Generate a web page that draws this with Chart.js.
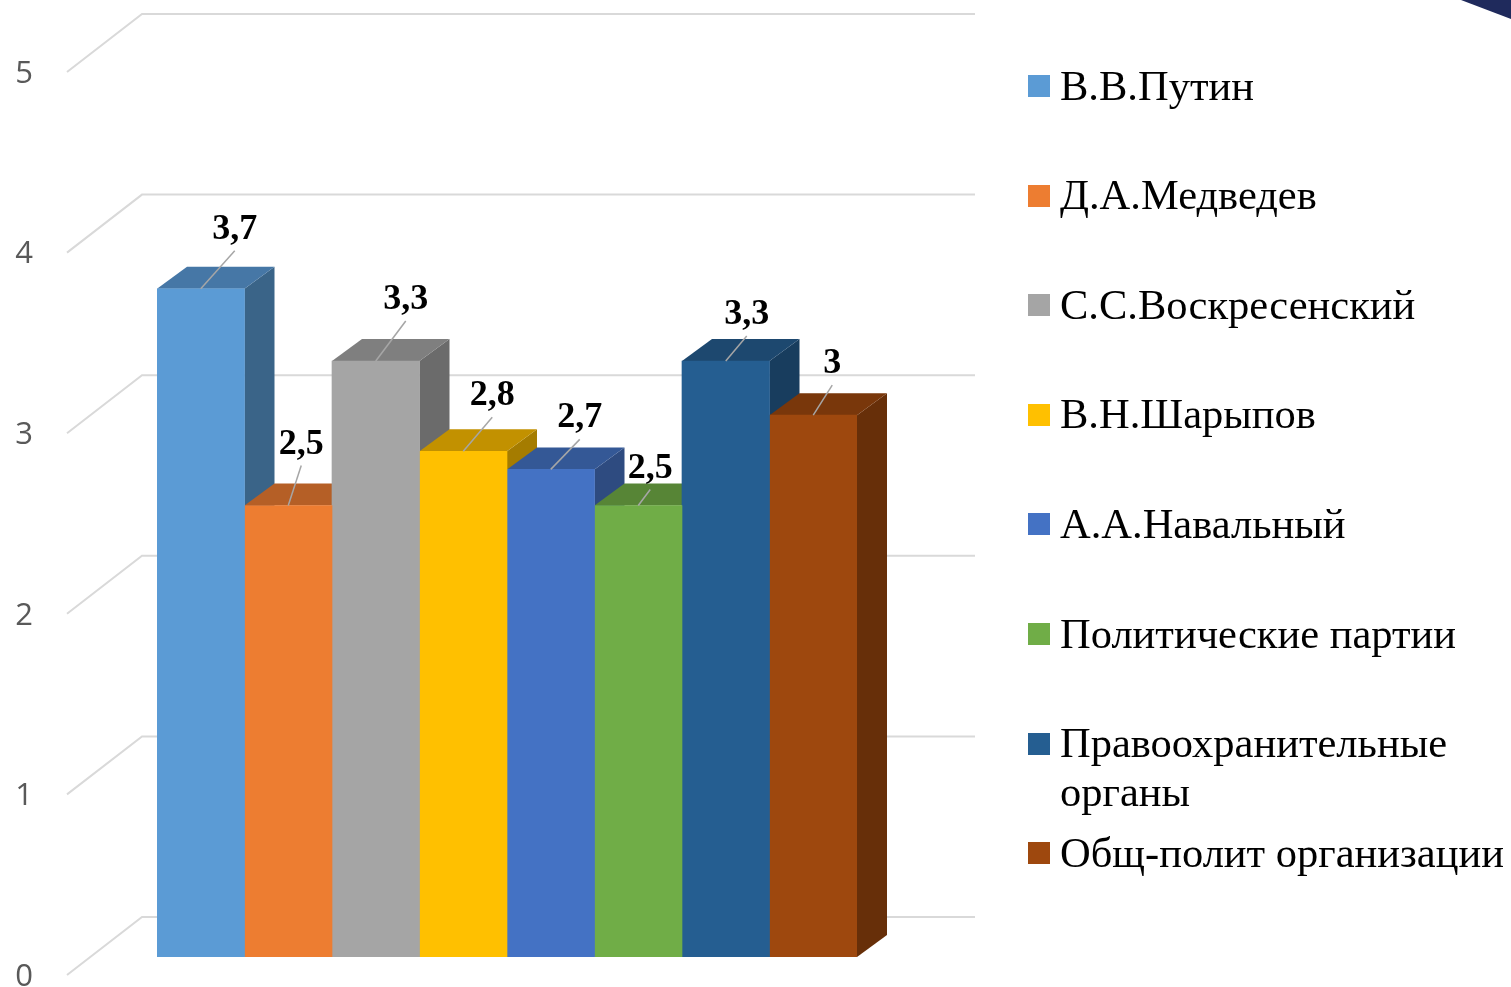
<!DOCTYPE html>
<html>
<head>
<meta charset="utf-8">
<script src="https://cdn.jsdelivr.net/npm/chart.js@4/dist/chart.umd.min.js"></script>
<style>
  html, body { margin: 0; padding: 0; background: #ffffff; }
  #wrap { position: relative; width: 1511px; height: 987px; overflow: hidden; }
  #c { position: absolute; left: 0; top: 0; }
  #legend { position: absolute; left: 0; top: 0; width: 1511px; height: 987px; pointer-events: none; }
  .li { position: absolute; left: 1028px; font-family: "Liberation Serif", "Times New Roman", serif; font-size: 42.5px; line-height: 49px; color: #000; white-space: nowrap; }
  .li .sw { position: absolute; left: 0; width: 22px; height: 22px; }
  .li .tx { position: absolute; left: 32px; top: 0; }
  #corner { position: absolute; right: 0; top: 0; width: 60px; height: 30px; background: #1f2a5c; clip-path: polygon(10px 0, 60px 0, 60px 19px); }
</style>
</head>
<body>
<div id="wrap">
  <canvas id="c" width="1511" height="987"></canvas>
  <div id="legend"></div>
  <div id="corner"></div>
</div>
<script>
// ---- data ----
const categories = [''];
const seriesNames = [
  'В.В.Путин',
  'Д.А.Медведев',
  'С.С.Воскресенский',
  'В.Н.Шарыпов',
  'А.А.Навальный',
  'Политические партии',
  'Правоохранительные органы',
  'Общ-полит организации'
];
const seriesValues = [3.7, 2.5, 3.3, 2.8, 2.7, 2.5, 3.3, 3];
const yTickValues = [0, 1, 2, 3, 4, 5];

// ---- styles ----
const frontColors = ['#5B9BD5', '#ED7D31', '#A5A5A5', '#FFC000', '#4472C4', '#70AD47', '#255E91', '#9E480E'];
const topColors   = ['#4677A6', '#B55F26', '#7F7F7F', '#C29100', '#345896', '#578536', '#1D486F', '#79370B'];
const sideColors  = ['#3A6488', '#9C5120', '#6B6B6B', '#A57C00', '#2E4B80', '#4A732E', '#183D5E', '#672F09'];
// label offsets (relative to bar front-top centre), as placed in the original
const labelNudge = [[34,-62],[13,-64],[30,-64],[29,-58],[29,-54],[12,-40],[21,-49],[19,-54]];
const legendWrap = { 6: ['Правоохранительные', 'органы'] };

const DEPTH_X = 30, DEPTH_Y = -22;     // bar depth
const WALL_FRONT_Y = 18, WALL_BACK_X = -15, WALL_FRONT_X = -90, WALL_BACK_Y = -40, WALL_RIGHT = 118;

function fmt(v) { return String(v).replace('.', ','); }

const wallPlugin = {
  id: 'wall3d',
  beforeDatasetsDraw(chart) {
    const ctx = chart.ctx;
    const ys = chart.scales.y;
    const area = chart.chartArea;
    ctx.save();
    ctx.strokeStyle = '#D9D9D9';
    ctx.lineWidth = 2;
    yTickValues.forEach(v => {
      const y = ys.getPixelForValue(v);
      ctx.beginPath();
      ctx.moveTo(area.left + WALL_FRONT_X, y + WALL_FRONT_Y);
      ctx.lineTo(area.left + WALL_BACK_X, y + WALL_BACK_Y);
      ctx.lineTo(area.right + WALL_RIGHT, y + WALL_BACK_Y);
      ctx.stroke();
    });
    // sides and tops of bars
    chart.data.datasets.forEach((ds, i) => {
      const meta = chart.getDatasetMeta(i);
      meta.data.forEach(el => {
        const p = el.getProps(['x', 'y', 'base', 'width'], true);
        const l = p.x - p.width / 2, r = p.x + p.width / 2;
        const top = p.y, base = p.base;
        ctx.fillStyle = sideColors[i];
        ctx.beginPath();
        ctx.moveTo(r, top);
        ctx.lineTo(r + DEPTH_X, top + DEPTH_Y);
        ctx.lineTo(r + DEPTH_X, base + DEPTH_Y);
        ctx.lineTo(r, base);
        ctx.closePath();
        ctx.fill();
        ctx.fillStyle = topColors[i];
        ctx.beginPath();
        ctx.moveTo(l, top);
        ctx.lineTo(r, top);
        ctx.lineTo(r + DEPTH_X, top + DEPTH_Y);
        ctx.lineTo(l + DEPTH_X, top + DEPTH_Y);
        ctx.closePath();
        ctx.fill();
      });
    });
    ctx.restore();
  },
  afterDatasetsDraw(chart) {
    const ctx = chart.ctx;
    ctx.save();
    chart.data.datasets.forEach((ds, i) => {
      const meta = chart.getDatasetMeta(i);
      meta.data.forEach((el, j) => {
        const p = el.getProps(['x', 'y'], true);
        const [dx, dy] = labelNudge[i];
        const lx = p.x + dx, ly = p.y + dy;
        ctx.strokeStyle = '#A6A6A6';
        ctx.lineWidth = 1.5;
        ctx.beginPath();
        ctx.moveTo(p.x, p.y);
        ctx.lineTo(lx, ly + 24);
        ctx.stroke();
        ctx.fillStyle = '#000';
        ctx.font = 'bold 36px "Liberation Serif", "Times New Roman", serif';
        ctx.textAlign = 'center';
        ctx.textBaseline = 'alphabetic';
        ctx.fillText(fmt(ds.data[j]), lx, ly + 12);
      });
    });
    ctx.restore();
  }
};

const chart = new Chart(document.getElementById('c'), {
  type: 'bar',
  data: {
    labels: categories,
    datasets: seriesNames.map((n, i) => ({
      label: n,
      data: [seriesValues[i]],
      backgroundColor: frontColors[i],
      borderWidth: 0,
      categoryPercentage: 1,
      barPercentage: 1
    }))
  },
  options: {
    responsive: false,
    animation: false,
    devicePixelRatio: 1,
    layout: { padding: { left: 0, right: 654, top: 54, bottom: 30 } },
    plugins: { legend: { display: false }, tooltip: { enabled: false } },
    scales: {
      x: { display: false },
      y: {
        min: 0, max: 5,
        afterFit(scale) { scale.width = 157; scale.paddingTop = 0; scale.paddingBottom = 0; },
        border: { display: false },
        grid: { display: false, drawTicks: false },
        afterBuildTicks(scale) { scale.ticks = yTickValues.map(v => ({ value: v })); },
        ticks: {
          stepSize: 1,
          padding: 124,
          labelOffset: 20,
          color: '#595959',
          font: { family: '"Open Sans", "Liberation Sans", sans-serif', size: 31 }
        }
      }
    }
  },
  plugins: [wallPlugin]
});

// ---- legend ----
const legend = document.getElementById('legend');
seriesNames.forEach((n, i) => {
  const markerCenter = 86 + i * 109.6;
  const item = document.createElement('div');
  item.className = 'li';
  item.style.top = (markerCenter - 25.5) + 'px';
  const sw = document.createElement('div');
  sw.className = 'sw';
  sw.style.background = frontColors[i];
  sw.style.top = (25.5 - 11) + 'px';
  const tx = document.createElement('div');
  tx.className = 'tx';
  const lines = legendWrap[i] || [n];
  tx.innerHTML = lines.join('<br>');
  item.appendChild(sw);
  item.appendChild(tx);
  legend.appendChild(item);
});
</script>
</body>
</html>
